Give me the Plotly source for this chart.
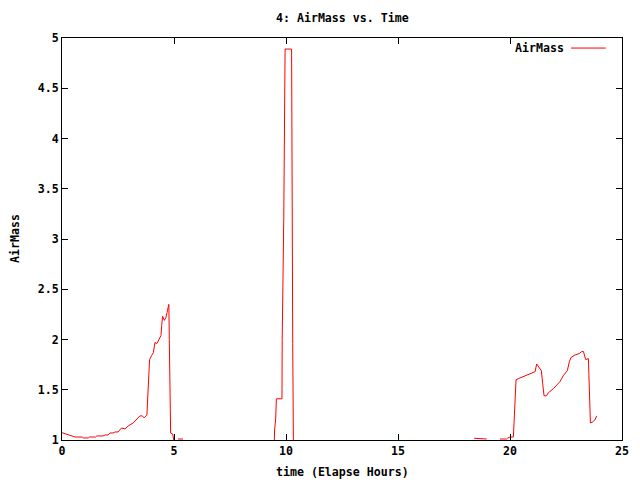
import plotly.graph_objects as go

# AirMass vs. elapsed time (hours); None marks gaps in the record
time_hours = [
    0, 0.21, 0.43, 0.58, 0.9, 0.95, 1.17, 1.22, 1.5, 1.55, 1.83, 1.93, 2.05, 2.15, 2.28,
    2.37, 2.5, 2.66, 2.81, 2.96, 3.18, 3.33, 3.48, 3.59, 3.67, 3.79, 3.82, 3.87, 3.91,
    4.0, 4.08, 4.15, 4.24, 4.33, 4.42, 4.45, 4.49, 4.57, 4.64, 4.69, 4.72, 4.75, 4.77,
    4.79, 4.82, 4.85, 4.94, 4.99, None,
    5.18, 5.4, None,
    9.48, 9.49, 9.54, 9.57, 9.82, 9.83, 9.9, 9.93, 9.96, 10.25, 10.26, 10.3, 10.33, None,
    18.4, 18.74, 18.75, 18.96, None,
    19.55, 19.85, 19.9, 20.0, 20.15, 20.19, 20.24, 20.27, 20.37, 20.59, 20.82, 21.01,
    21.12, 21.19, 21.29, 21.4, 21.46, 21.52, 21.63, 21.71, 21.93, 22.23, 22.38, 22.56,
    22.65, 22.72, 22.9, 23.09, 23.2, 23.28, 23.32, 23.38, 23.5, 23.53, 23.57, 23.59,
    23.69, 23.79, 23.87,
]
airmass = [
    1.073, 1.06, 1.04, 1.03, 1.03, 1.02, 1.02, 1.03, 1.03, 1.04, 1.04, 1.05, 1.05, 1.07, 1.07,
    1.08, 1.08, 1.12, 1.11, 1.14, 1.17, 1.21, 1.24, 1.24, 1.22, 1.25, 1.38, 1.66, 1.80,
    1.84, 1.87, 1.97, 1.96, 2.00, 2.04, 2.14, 2.23, 2.19, 2.22, 2.27, 2.30, 2.35, 2.35,
    2.0, 1.35, 1.07, 1.06, 1.0, None,
    1.01, 1.01, None,
    1.0, 1.1, 1.21, 1.41, 1.41, 2.0, 3.2, 4.33, 4.89, 4.89, 3.92, 1.96, 1.0, None,
    1.017, 1.017, 1.01, 1.01, None,
    1.01, 1.01, 1.02, 1.03, 1.03, 1.18, 1.46, 1.60, 1.61, 1.63, 1.65, 1.67,
    1.68, 1.756, 1.73, 1.69, 1.56, 1.44, 1.44, 1.47, 1.51, 1.58, 1.64, 1.69,
    1.78, 1.82, 1.846, 1.86, 1.88, 1.88, 1.846, 1.80, 1.81, 1.65, 1.33, 1.17,
    1.18, 1.20, 1.24,
]

x_ticks = [0, 5, 10, 15, 20, 25]
y_ticks = [1, 1.5, 2, 2.5, 3, 3.5, 4, 4.5, 5]
y_tick_labels = ["1", "1.5", "2", "2.5", "3", "3.5", "4", "4.5", "5"]

FONT = dict(family="DejaVu Sans Mono", size=11.6, color="black", weight="bold")

fig = go.Figure()
fig.add_trace(go.Scatter(
    x=time_hours, y=airmass, mode="lines", name="AirMass",
    line=dict(color="#ff0000", width=1), connectgaps=False, showlegend=False,
))

axis_common = dict(
    showline=True, linecolor="black", linewidth=1, mirror="ticks",
    ticks="inside", ticklen=6, tickcolor="black", tickwidth=1,
    showgrid=False, zeroline=False, tickfont=FONT,
)
fig.update_xaxes(range=[0, 25], tickvals=x_ticks, ticktext=[str(v) for v in x_ticks], **axis_common)
fig.update_yaxes(range=[1, 5], tickvals=y_ticks, ticktext=y_tick_labels, **axis_common)

fig.update_layout(
    width=640, height=480,
    margin=dict(l=62, r=18, t=38, b=40),
    paper_bgcolor="white", plot_bgcolor="white",
    font=FONT,
    annotations=[
        dict(text="4: AirMass vs. Time", xref="paper", yref="paper", x=0.5, y=1,
             yshift=20, xanchor="center", yanchor="middle", showarrow=False, font=FONT),
        dict(text="time (Elapse Hours)", xref="paper", yref="paper", x=0.5, y=0,
             yshift=-32, xanchor="center", yanchor="middle", showarrow=False, font=FONT),
        dict(text="AirMass", xref="paper", yref="paper", x=0, y=0.5,
             xshift=-47, textangle=-90, xanchor="center", yanchor="middle",
             showarrow=False, font=FONT),
        dict(text="AirMass", xref="paper", yref="paper", x=0.9, y=0.975,
             xanchor="right", yanchor="middle", showarrow=False, font=FONT),
    ],
    shapes=[
        dict(type="line", xref="paper", yref="paper", x0=0.909, x1=0.971,
             y0=0.975, y1=0.975, line=dict(color="#ff0000", width=1)),
    ],
)

fig.write_html("out.html", config={"displayModeBar": False},
               post_script="document.body.style.margin='0';")
